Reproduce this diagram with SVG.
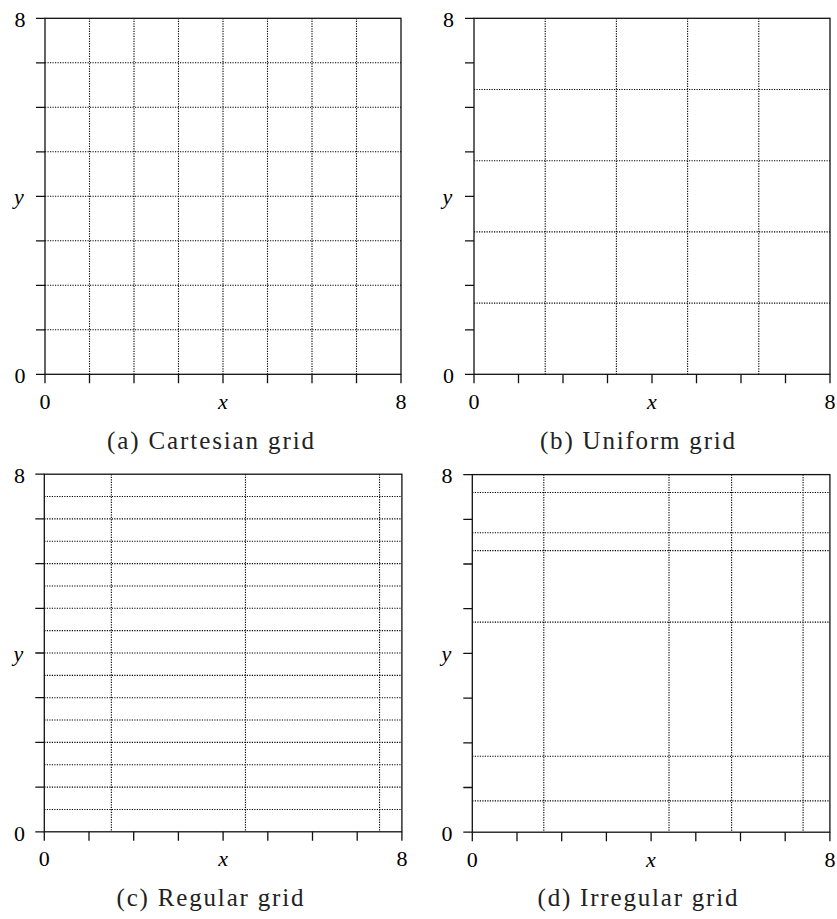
<svg xmlns="http://www.w3.org/2000/svg" width="837" height="919" viewBox="0 0 837 919">
<style>
.frame{fill:none;stroke:#111;stroke-width:1.3}
.tick{fill:none;stroke:#111;stroke-width:1.3}
.grid{fill:none;stroke:#000;stroke-width:1.1;stroke-dasharray:1.2 1.3}
.num{font-family:"Liberation Serif",serif;font-size:22px;text-anchor:middle;fill:#000}
.var{font-family:"Liberation Serif",serif;font-size:22px;font-style:italic;text-anchor:middle;fill:#000}
.cap{font-family:"Liberation Serif",serif;font-size:25px;text-anchor:middle;fill:#222}
</style>
<rect x="0" y="0" width="837" height="919" fill="#fff"/>
<g id="panel-a">
<path class="grid" d="M89.5 18.3V374.3M134 18.3V374.3M178.5 18.3V374.3M223 18.3V374.3M267.5 18.3V374.3M312 18.3V374.3M356.5 18.3V374.3M45 62.8H401M45 107.3H401M45 151.8H401M45 196.3H401M45 240.8H401M45 285.3H401M45 329.8H401"/>
<rect class="frame" x="45" y="18.3" width="356" height="356"/>
<path class="tick" d="M36 18.3H45M36 62.8H45M36 107.3H45M36 151.8H45M36 196.3H45M36 240.8H45M36 285.3H45M36 329.8H45M36 374.3H45M45 374.3V383.3M89.5 374.3V383.3M134 374.3V383.3M178.5 374.3V383.3M223 374.3V383.3M267.5 374.3V383.3M312 374.3V383.3M356.5 374.3V383.3M401 374.3V383.3"/>
<text class="num" x="20" y="26.8">8</text>
<text class="num" x="20" y="383">0</text>
<text class="num" x="45" y="409">0</text>
<text class="num" x="401" y="409">8</text>
<text class="var" x="223" y="409">x</text>
<text class="var" x="19" y="204">y</text>
<text class="cap" x="210.5" y="449" textLength="207" lengthAdjust="spacing">(a) Cartesian grid</text>
</g>
<g id="panel-b">
<path class="grid" d="M545.2 18.3V374.3M616.4 18.3V374.3M687.6 18.3V374.3M758.8 18.3V374.3M474 303.1H830M474 231.9H830M474 160.7H830M474 89.5H830"/>
<rect class="frame" x="474" y="18.3" width="356" height="356"/>
<path class="tick" d="M465 18.3H474M465 62.8H474M465 107.3H474M465 151.8H474M465 196.3H474M465 240.8H474M465 285.3H474M465 329.8H474M465 374.3H474M474 374.3V383.3M518.5 374.3V383.3M563 374.3V383.3M607.5 374.3V383.3M652 374.3V383.3M696.5 374.3V383.3M741 374.3V383.3M785.5 374.3V383.3M830 374.3V383.3"/>
<text class="num" x="448.5" y="26.8">8</text>
<text class="num" x="448.5" y="383">0</text>
<text class="num" x="474" y="409">0</text>
<text class="num" x="830" y="409">8</text>
<text class="var" x="652" y="409">x</text>
<text class="var" x="447.5" y="204">y</text>
<text class="cap" x="637.5" y="449" textLength="195" lengthAdjust="spacing">(b) Uniform grid</text>
</g>
<g id="panel-c">
<path class="grid" d="M111.35 474.2V831.8M245.45 474.2V831.8M379.55 474.2V831.8M44.3 809.45H401.9M44.3 787.1H401.9M44.3 764.75H401.9M44.3 742.4H401.9M44.3 720.05H401.9M44.3 697.7H401.9M44.3 675.35H401.9M44.3 653H401.9M44.3 630.65H401.9M44.3 608.3H401.9M44.3 585.95H401.9M44.3 563.6H401.9M44.3 541.25H401.9M44.3 518.9H401.9M44.3 496.55H401.9"/>
<rect class="frame" x="44.3" y="474.2" width="357.6" height="357.6"/>
<path class="tick" d="M35.3 474.2H44.3M35.3 518.9H44.3M35.3 563.6H44.3M35.3 608.3H44.3M35.3 653H44.3M35.3 697.7H44.3M35.3 742.4H44.3M35.3 787.1H44.3M35.3 831.8H44.3M44.3 831.8V840.8M89 831.8V840.8M133.7 831.8V840.8M178.4 831.8V840.8M223.1 831.8V840.8M267.8 831.8V840.8M312.5 831.8V840.8M357.2 831.8V840.8M401.9 831.8V840.8"/>
<text class="num" x="19.5" y="482.7">8</text>
<text class="num" x="19.5" y="840.5">0</text>
<text class="num" x="44.3" y="866">0</text>
<text class="num" x="401.9" y="866">8</text>
<text class="var" x="223.1" y="866">x</text>
<text class="var" x="18.5" y="661">y</text>
<text class="cap" x="210" y="906" textLength="187" lengthAdjust="spacing">(c) Regular grid</text>
</g>
<g id="panel-d">
<path class="grid" d="M543.8 474.6V832.2M669 474.6V832.2M731.6 474.6V832.2M803.1 474.6V832.2M472.3 800.9H829.9M472.3 756.2H829.9M472.3 622.1H829.9M472.3 550.6H829.9M472.3 532.7H829.9M472.3 492.5H829.9"/>
<rect class="frame" x="472.3" y="474.6" width="357.6" height="357.6"/>
<path class="tick" d="M463.3 474.6H472.3M463.3 519.3H472.3M463.3 564H472.3M463.3 608.7H472.3M463.3 653.4H472.3M463.3 698.1H472.3M463.3 742.8H472.3M463.3 787.5H472.3M463.3 832.2H472.3M472.3 832.2V841.2M517 832.2V841.2M561.7 832.2V841.2M606.4 832.2V841.2M651.1 832.2V841.2M695.8 832.2V841.2M740.5 832.2V841.2M785.2 832.2V841.2M829.9 832.2V841.2"/>
<text class="num" x="447" y="483">8</text>
<text class="num" x="447" y="841">0</text>
<text class="num" x="472.3" y="867">0</text>
<text class="num" x="829.9" y="867">8</text>
<text class="var" x="651" y="867">x</text>
<text class="var" x="446.5" y="661">y</text>
<text class="cap" x="637.5" y="906" textLength="200" lengthAdjust="spacing">(d) Irregular grid</text>
</g>
</svg>
